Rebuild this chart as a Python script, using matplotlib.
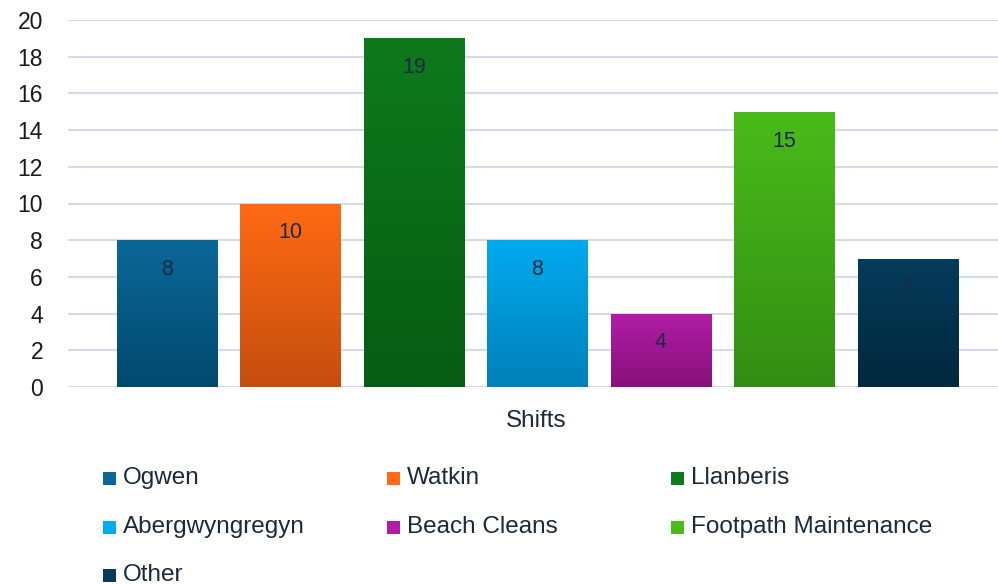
import numpy as np
import matplotlib
matplotlib.use("Agg")
import matplotlib.pyplot as plt
from matplotlib.colors import LinearSegmentedColormap
from matplotlib.patches import Rectangle

# shift counts per location / activity
categories = ["Ogwen", "Watkin", "Llanberis", "Abergwyngregyn",
              "Beach Cleans", "Footpath Maintenance", "Other"]
shifts = [8, 10, 19, 8, 4, 15, 7]
# gradient colours per bar (top, bottom)
top_colors = ["#0a6898", "#ff6a14", "#0e7a1c", "#00abef", "#b11ca6", "#4abb1a", "#043c5a"]
bottom_colors = ["#02496e", "#c54e0e", "#065c13", "#0080b9", "#88117a", "#338d13", "#02283e"]
yticks = [0, 2, 4, 6, 8, 10, 12, 14, 16, 18, 20]
xlabel = "Shifts"

plt.rcParams['font.family'] = ['Liberation Sans', 'DejaVu Sans']

fig = plt.figure(figsize=(9.98, 5.85), dpi=100)
ax = fig.add_axes([68 / 998, 1 - 387 / 585, 930 / 998, 367 / 585])

x = np.arange(len(categories))
width = 0.81
bars = ax.bar(x, shifts, width=width, color="none", zorder=3)

grad = np.linspace(0, 1, 256).reshape(-1, 1)
for b, c_top, c_bot, val in zip(bars, top_colors, bottom_colors, shifts):
    cmap = LinearSegmentedColormap.from_list("g", [c_bot, c_top])
    x0, w = b.get_x(), b.get_width()
    im = ax.imshow(grad, cmap=cmap, origin="lower", aspect="auto",
                   extent=(x0, x0 + w, 0, val), zorder=3)
    im.set_clip_path(b)
    ax.text(x0 + w / 2, val - 1.6, str(val), ha="center", va="center",
            fontsize=15.5, color="#1b2a44", zorder=4)

ax.set_xlim(-0.80, 6.73)
ax.set_ylim(0, 20)
ax.set_yticks(yticks)
ax.set_xticks([])
ax.tick_params(axis="y", length=0, labelsize=16.5, colors="#1a1a1a", pad=18)
for lab in ax.get_yticklabels():
    lab.set_horizontalalignment("right")
ax.grid(axis="y", color="#d3dbea", linewidth=1.5, zorder=0)
for s in ax.spines.values():
    s.set_visible(False)

fig.text(536 / 998, 1 - 421 / 585, xlabel, ha="center", va="center",
         fontsize=17.5, color="#1a2a3a")

# legend laid out row by row, three per row
col_x = [103, 387, 671]
row_y = [478, 527, 575]
for i, (name, c_top, c_bot) in enumerate(zip(categories, top_colors, bottom_colors)):
    r, c = divmod(i, 3)
    px, py = col_x[c], row_y[r]
    fig.add_artist(Rectangle((px / 998, 1 - (py + 7) / 585), 13 / 998, 13 / 585,
                             transform=fig.transFigure, color=c_top, lw=0))
    fig.text((px + 20) / 998, 1 - py / 585, name, ha="left", va="center",
             fontsize=17.5, color="#1a2a3a")

fig.savefig("out.png", dpi=100)
